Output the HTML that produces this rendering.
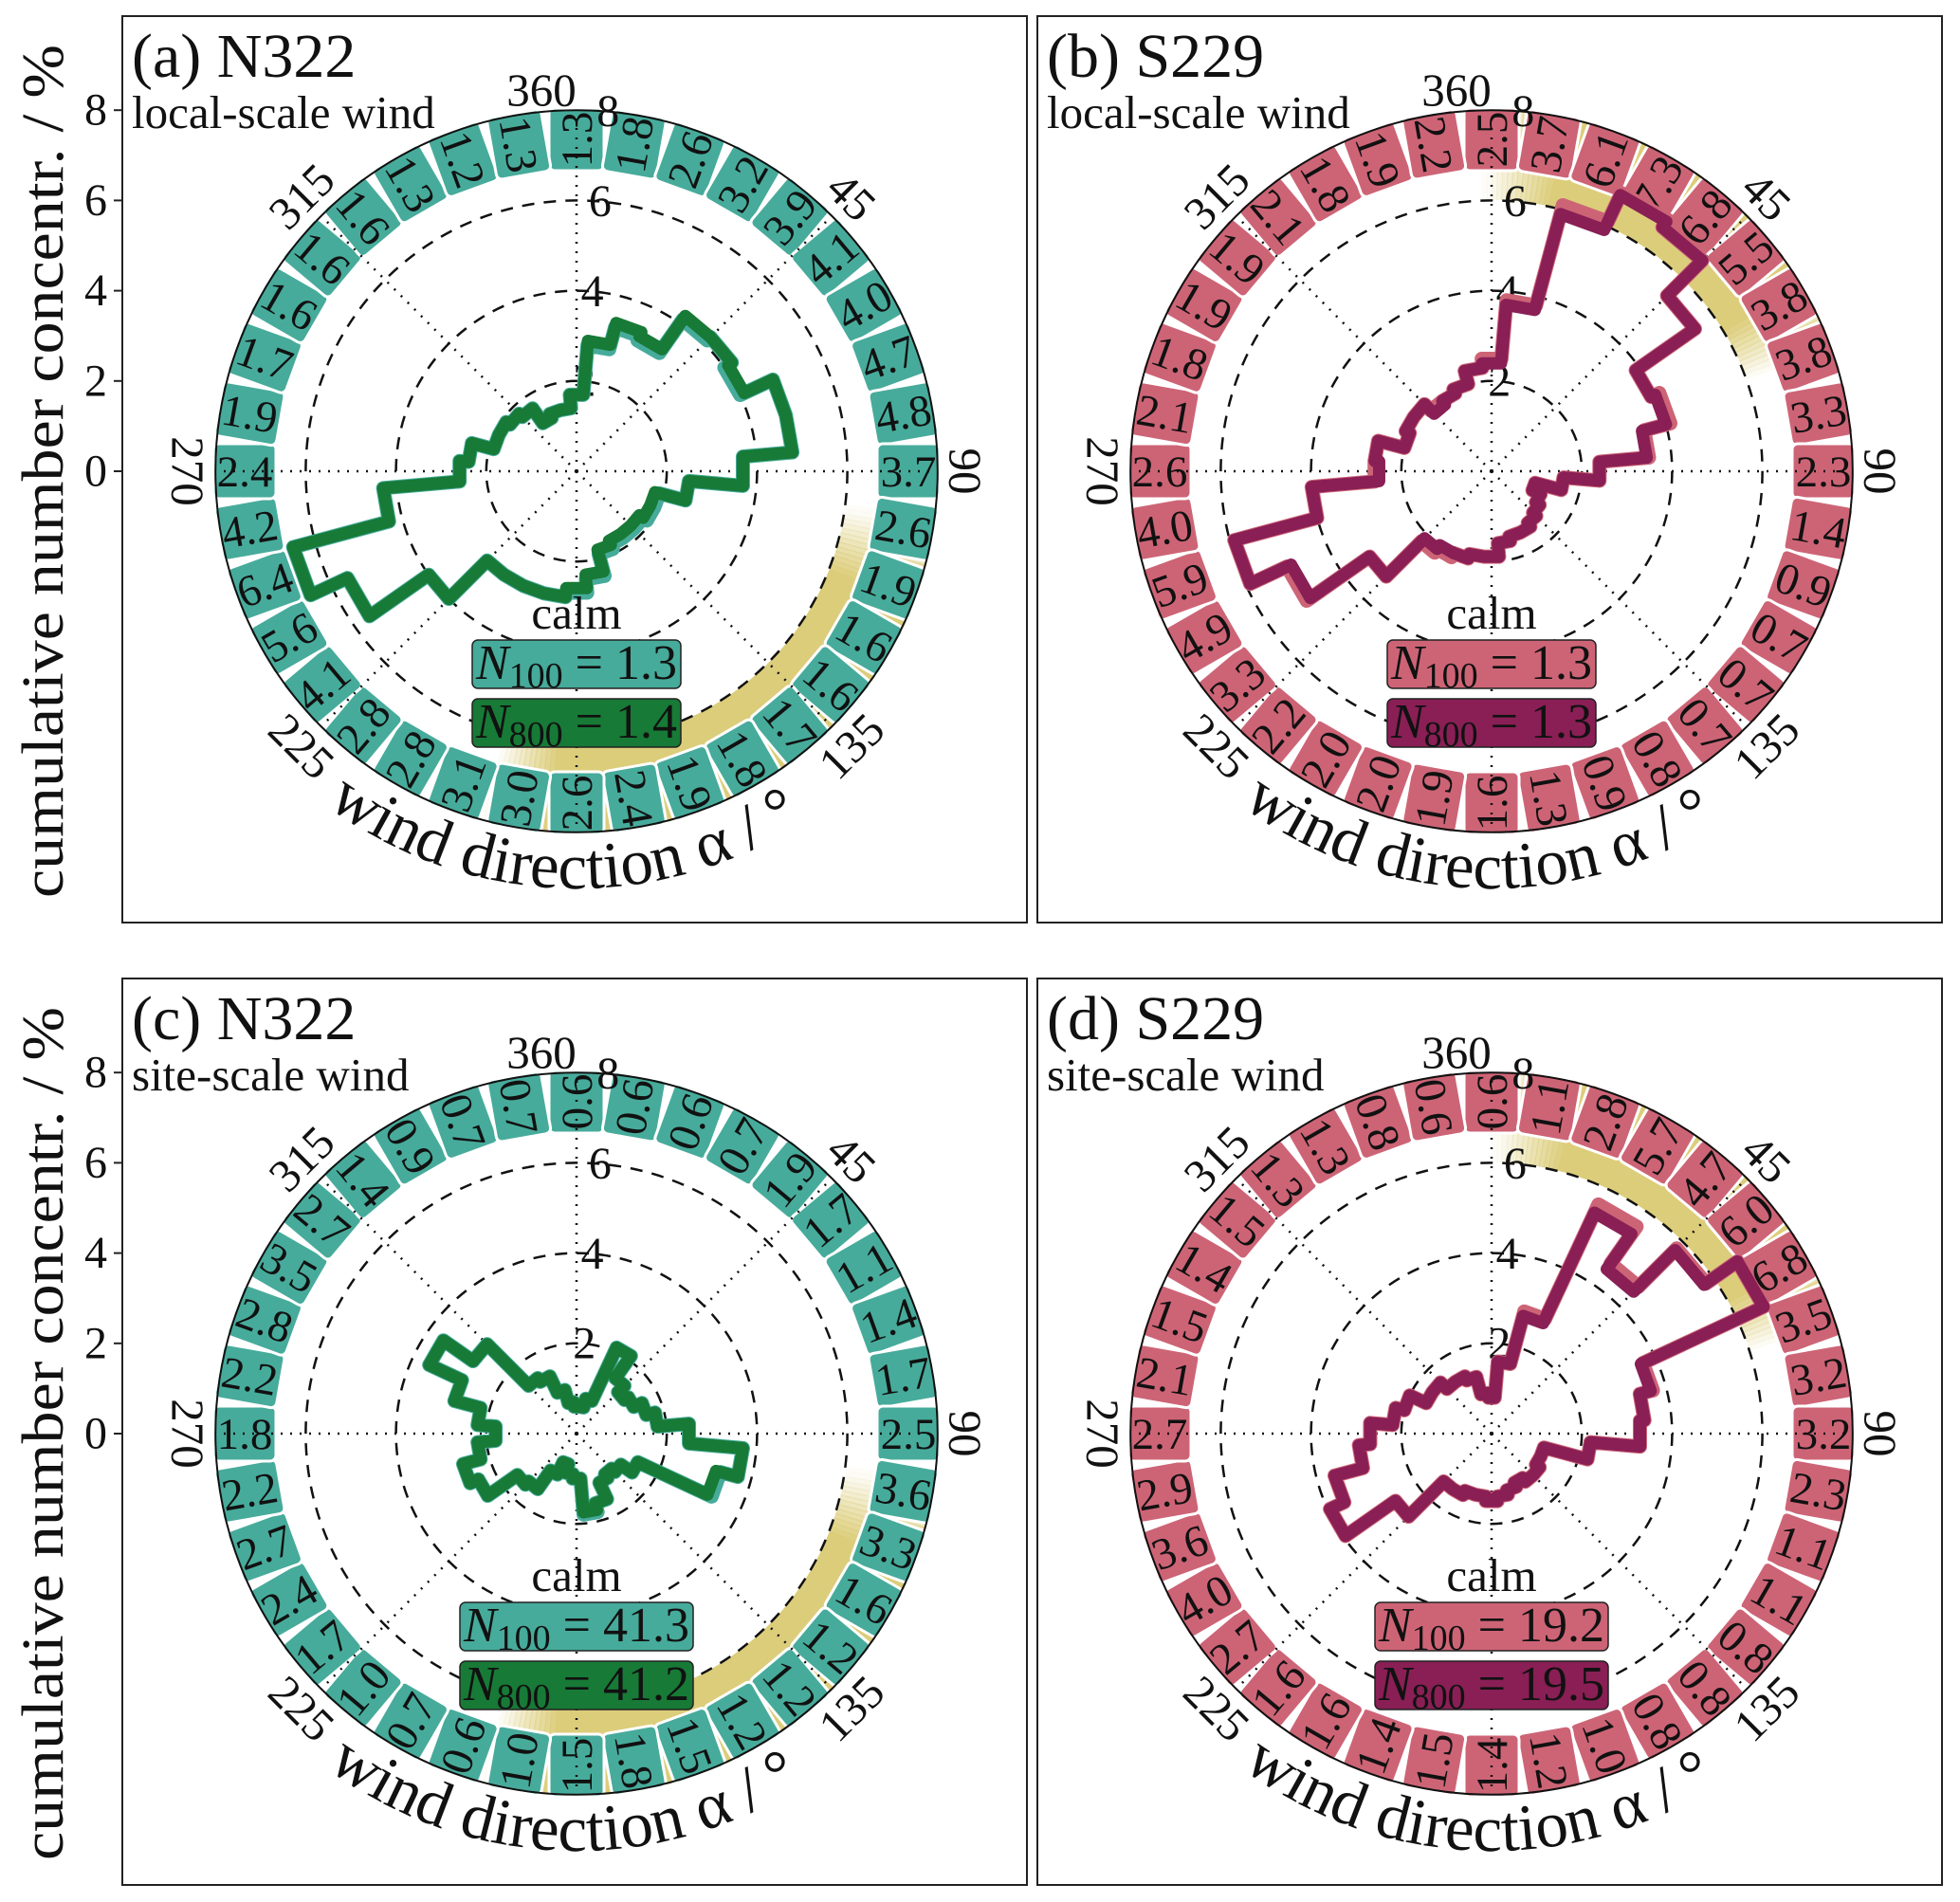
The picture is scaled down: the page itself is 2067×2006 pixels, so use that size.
<!DOCTYPE html>
<html><head><meta charset="utf-8"><style>
html,body{margin:0;padding:0;background:#fff;}
svg{display:block;font-family:"Liberation Serif","Times New Roman",serif;}
</style></head><body>
<svg id="fig" width="2067" height="2006" viewBox="0 0 2067 2006" xmlns="http://www.w3.org/2000/svg" font-family="Liberation Serif, serif"></svg>
<script>
// ---------- data ----------
const sectorAngles = [0,10,20,30,40,50,60,70,80,90,100,110,120,130,140,150,160,170,180,190,200,210,220,230,240,250,260,270,280,290,300,310,320,330,340,350];
const radialTicks = [2,4,6,8];
const yTicks = [0,2,4,6,8];
const dirLabels = ["45","90","135","225","270","315"];
const dirAngles = [45,90,135,225,270,315];

const a_N100 = [1.7,2.8,3.3,3.2,4.1,4.2,4.0,4.8,4.8,3.7,2.5,1.9,1.9,1.8,1.8,1.8,1.9,2.4,2.7,2.8,2.8,2.8,2.8,4.0,5.6,6.5,4.3,2.6,2.4,1.9,1.9,1.8,1.7,1.3,1.4,1.4];
const a_N800 = [1.7,2.9,3.4,3.3,4.2,4.2,4.1,4.8,4.8,3.7,2.5,1.8,1.8,1.7,1.7,1.7,1.8,2.3,2.6,2.8,2.8,2.8,2.8,4.0,5.6,6.5,4.3,2.6,2.4,1.9,1.9,1.8,1.7,1.3,1.4,1.4];
const a_labels = ["1.3","1.8","2.6","3.2","3.9","4.1","4.0","4.7","4.8","3.7","2.6","1.9","1.6","1.6","1.7","1.8","1.9","2.4","2.6","3.0","3.1","2.8","2.8","4.1","5.6","6.4","4.2","2.4","1.9","1.7","1.6","1.6","1.6","1.3","1.2","1.3"];

const b_N100 = [2.5,3.8,6.1,6.8,6.6,5.5,3.9,4.1,3.5,2.4,1.6,1.0,1.2,1.3,1.4,1.5,1.5,1.6,1.9,1.9,2.0,2.1,2.2,3.3,5.0,5.9,4.0,2.6,2.6,2.0,2.1,2.1,1.9,1.9,2.0,2.3];
const b_N800 = [2.4,3.7,5.9,6.75,6.6,5.5,3.9,4.0,3.45,2.4,1.6,1.0,1.2,1.3,1.4,1.5,1.5,1.6,1.9,1.9,2.0,2.0,2.1,3.3,4.9,5.9,4.0,2.5,2.6,2.0,2.1,2.1,1.8,1.9,2.0,2.3];
const b_labels = ["2.5","3.7","6.1","7.3","6.8","5.5","3.8","3.8","3.3","2.3","1.4","0.9","0.7","0.7","0.7","0.8","0.9","1.3","1.6","1.9","2.0","2.0","2.2","3.3","4.9","5.9","4.0","2.6","2.1","1.8","1.9","1.9","2.1","1.8","1.9","2.2"];

const c_N100 = [0.6,0.6,0.8,2.1,1.5,1.3,1.4,1.6,1.8,2.5,3.7,3.3,1.5,1.2,1.1,1.2,1.6,1.8,1.0,0.9,0.7,1.0,1.5,1.6,2.4,2.6,2.2,1.8,2.2,2.8,3.6,2.8,1.5,1.4,1.0,0.7];
const c_N800 = [0.6,0.6,0.8,2.1,1.5,1.3,1.4,1.6,1.8,2.5,3.7,3.2,1.5,1.2,1.1,1.2,1.6,1.75,1.0,0.9,0.7,1.0,1.5,1.6,2.4,2.6,2.2,1.8,2.2,2.8,3.6,2.8,1.5,1.4,1.0,0.7];
const c_labels = ["0.6","0.6","0.6","0.7","1.9","1.7","1.1","1.4","1.7","2.5","3.6","3.3","1.6","1.2","1.2","1.2","1.5","1.8","1.5","1.0","0.6","0.7","1.0","1.7","2.4","2.7","2.2","1.8","2.2","2.8","3.5","2.7","1.4","0.9","0.7","0.7"];

const d_N100 = [0.8,1.6,2.8,5.6,4.6,5.8,6.65,3.7,3.4,3.3,2.2,1.2,1.2,1.3,1.3,1.2,1.3,1.4,1.5,1.4,1.4,1.5,1.5,2.6,3.95,3.6,2.95,2.7,2.2,2.0,1.6,1.6,1.4,1.4,1.3,0.9];
const d_N800 = [0.8,1.6,2.7,5.4,4.45,5.75,6.65,3.65,3.4,3.3,2.2,1.2,1.2,1.3,1.3,1.2,1.3,1.4,1.5,1.4,1.4,1.5,1.5,2.6,3.95,3.6,2.95,2.7,2.2,2.0,1.6,1.6,1.4,1.4,1.3,0.9];
const d_labels = ["0.6","1.1","2.8","5.7","4.7","6.0","6.8","3.5","3.2","3.2","2.3","1.1","1.1","0.8","0.8","0.8","1.0","1.2","1.4","1.5","1.4","1.6","1.6","2.7","4.0","3.6","2.9","2.7","2.1","1.5","1.4","1.5","1.3","1.3","0.8","0.6"];

const calmN100 = ["1.3","1.3","41.3","19.2"];
const calmN800 = ["1.4","1.3","41.2","19.5"];

// ---------- drawing ----------
const NS = "http://www.w3.org/2000/svg";
const svg = document.getElementById('fig');
const UNIT = 47.6;
function mk(tag, attrs, parent){
  const e = document.createElementNS(NS, tag);
  for (const k in attrs) e.setAttribute(k, attrs[k]);
  (parent||svg).appendChild(e);
  return e;
}
function rScale(v){ return v*UNIT; }
function pt(cx, cy, deg, r){ const a = deg*Math.PI/180; return [cx + r*Math.sin(a), cy - r*Math.cos(a)]; }
function norm(rot){ while(rot >= 90) rot -= 180; while(rot < -90) rot += 180; return rot; }

const panels = [
  {id:'a', left:129, top:17, title:'(a) N322', sub:'local-scale wind', n100:a_N100, n800:a_N800, labels:a_labels, c100:'#46ab9b', c800:'#177a36', box:'#47ab9b', gold:[97,195], yaxis:true, k:0},
  {id:'b', left:1094, top:17, title:'(b) S229', sub:'local-scale wind', n100:b_N100, n800:b_N800, labels:b_labels, c100:'#cd6476', c800:'#891f55', box:'#cd6476', gold:[-2,70], yaxis:false, k:1},
  {id:'c', left:129, top:1032, title:'(c) N322', sub:'site-scale wind', n100:c_N100, n800:c_N800, labels:c_labels, c100:'#46ab9b', c800:'#177a36', box:'#47ab9b', gold:[97,195], yaxis:true, k:2},
  {id:'d', left:1094, top:1032, title:'(d) S229', sub:'site-scale wind', n100:d_N100, n800:d_N800, labels:d_labels, c100:'#cd6476', c800:'#891f55', box:'#cd6476', gold:[0,72], yaxis:false, k:3}
];

function arcPath(cx, cy, r1, r2, a1, a2){
  const p1 = pt(cx,cy,a1,r2), p2 = pt(cx,cy,a2,r2), p3 = pt(cx,cy,a2,r1), p4 = pt(cx,cy,a1,r1);
  const large = (a2-a1) > 180 ? 1 : 0;
  return `M${p1[0]},${p1[1]} A${r2},${r2} 0 ${large} 1 ${p2[0]},${p2[1]} L${p3[0]},${p3[1]} A${r1},${r1} 0 ${large} 0 ${p4[0]},${p4[1]} Z`;
}

panels.forEach(P => {
  const g = mk('g', {});
  
  
  const cx = P.left + 479, cy = P.top + 480;

  const frame = mk('rect', {x:P.left, y:P.top, width:954, height:956, fill:'none', stroke:'#222', 'stroke-width':2}, g);
  
  

  const gg = mk('g', {}, g);
  
  
  const [g1, g2] = P.gold;
  for (let a = g1; a < g2; a += 1){
    const fade = Math.min(1, (a-g1)/14, (g2-a)/12);
    mk('path', {d:arcPath(cx,cy,286,382,a,a+1.2), fill:'#dccd7b', 'fill-opacity':Math.max(0.05,fade)}, gg);
  }

  sectorAngles.forEach((ang, i) => {
    const [x, y] = pt(cx, cy, ang, 350);
    const rot = norm(ang - 90);
    const bg = mk('g', {transform:`translate(${x},${y}) rotate(${rot})`}, g);
    
    
    mk('rect', {x:-33, y:-29, width:66, height:58, rx:6, fill:P.box, stroke:'#fff', 'stroke-width':3}, bg);
    const t = mk('text', {x:0, y:1, 'font-size':47, 'text-anchor':'middle', 'dominant-baseline':'central', fill:'#111', 'font-family':'Liberation Serif, serif'}, bg);
    t.textContent = P.labels[i];
  });

  const oc = mk('circle', {cx, cy, r:rScale(8), fill:'none', stroke:'#111', 'stroke-width':2}, g);
  
  

  [2,4,6].forEach(v => {
    const c = mk('circle', {cx, cy, r:rScale(v), fill:'none', stroke:'#111', 'stroke-width':2.5, 'stroke-dasharray':'13 10'}, g);
    
    
  });
  [0,45,90,135,180,225,270,315].forEach(a => {
    const [x2, y2] = pt(cx, cy, a, rScale(7.85));
    const l = mk('line', {x1:cx, y1:cy, x2, y2, stroke:'#111', 'stroke-width':2.5, 'stroke-dasharray':'2 8'}, g);
    
    
  });

  radialTicks.forEach(v => {
    const [x, y] = pt(cx, cy, 5, rScale(v));
    const t = mk('text', {x, y, 'font-size':48, 'text-anchor':'middle', 'dominant-baseline':'central', fill:'#111'}, g);
    
    
    t.textContent = v;
  });

  function rose(vals, color, name, w){
    let d = '';
    vals.forEach((v, i) => {
      const a = sectorAngles[i];
      const p1 = pt(cx, cy, a-5, rScale(v)), p2 = pt(cx, cy, a+5, rScale(v));
      d += (i === 0 ? 'M' : 'L') + p1[0] + ',' + p1[1] + ' L' + p2[0] + ',' + p2[1] + ' ';
    });
    d += 'Z';
    const p = mk('path', {d, fill:'none', stroke:color, 'stroke-width':w, 'stroke-linejoin':'round'}, g);
    
    
  }
  rose(P.n100, P.c100, 'rose-n100', 15);
  rose(P.n800, P.c800, 'rose-n800', 13);

  const t360 = mk('text', {x:cx-37, y:cy-402, 'font-size':49, 'text-anchor':'middle', 'dominant-baseline':'central', fill:'#111'}, g);
  
  
  t360.textContent = '360';
  dirAngles.forEach((a, i) => {
    const [x, y] = pt(cx, cy, a, 410);
    let rot = a; if (rot > 90 && rot <= 270) rot -= 180; if (rot > 270) rot -= 360;
    const t = mk('text', {x, y, 'font-size':49, 'text-anchor':'middle', 'dominant-baseline':'central', fill:'#111', transform:`rotate(${rot} ${x} ${y})`}, g);
    
    
    t.textContent = dirLabels[i];
  });

  const R = 440;
  const s = pt(cx, cy, 250, R), e = pt(cx, cy, 102, R);
  mk('path', {id:'xpath-' + P.id, d:`M${s[0]},${s[1]} A${R},${R} 0 0 0 ${e[0]},${e[1]}`, fill:'none'}, g);
  const xt = mk('text', {'font-size':69, fill:'#111'}, g);
  
  
  const tp = mk('textPath', {href:'#xpath-' + P.id, startOffset:'46%', 'text-anchor':'middle'}, xt);
  tp.textContent = 'wind direction \u03b1 / \u00b0';

  const calm = mk('text', {x:cx, y:cy+166, 'font-size':49, 'text-anchor':'middle', fill:'#111'}, g);
  
  
  calm.textContent = 'calm';
  const bw = calmN100[P.k].length > 3 ? 246 : 220;
  [[calmN100[P.k], '100', P.c100, 178, 'calm-n100-box'], [calmN800[P.k], '800', P.c800, 240, 'calm-n800-box']].forEach(([val, sub, col, dy, nm]) => {
    const bg = mk('g', {}, g);
    
    
    mk('rect', {x:cx-bw/2, y:cy+dy, width:bw, height:51, rx:6, fill:col, stroke:'#222', 'stroke-width':1.5}, bg);
    const t = mk('text', {x:cx, y:cy+dy+41, 'font-size':52, 'text-anchor':'middle', fill:'#111'}, bg);
    const t1 = mk('tspan', {'font-style':'italic'}, t); t1.textContent = 'N';
    const t2 = mk('tspan', {'font-size':38, dy:9}, t); t2.textContent = sub;
    const t3 = mk('tspan', {dy:-9}, t); t3.textContent = ' = ' + val;
  });

  const tt = mk('text', {x:P.left+10, y:P.top+64, 'font-size':66, fill:'#111'}, g);
  
  
  tt.textContent = P.title;
  const st = mk('text', {x:P.left+10, y:P.top+118, 'font-size':49, fill:'#111'}, g);
  
  
  st.textContent = P.sub;

  if (P.yaxis){
    yTicks.forEach(v => {
      const y = cy - rScale(v);
      const tk = mk('line', {x1:P.left-9, y1:y, x2:P.left, y2:y, stroke:'#222', 'stroke-width':2}, g);
      
      
      const t = mk('text', {x:P.left-16, y, 'font-size':48, 'text-anchor':'end', 'dominant-baseline':'central', fill:'#111'}, g);
      
      
      t.textContent = v;
    });
    const yt = mk('text', {x:0, y:0, 'font-size':62, 'text-anchor':'middle', fill:'#111', transform:`translate(66 ${cy}) rotate(-90)`, textLength:900, lengthAdjust:'spacingAndGlyphs'}, g);
    
    
    yt.textContent = 'cumulative number concentr. / %';
  }
});
</script>
</body></html>
